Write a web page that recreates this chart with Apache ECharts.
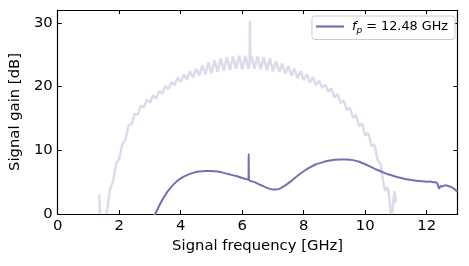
<!DOCTYPE html>
<html>
<head>
<meta charset="utf-8">
<script src="https://cdn.jsdelivr.net/npm/echarts@6/dist/echarts.min.js"></script>
<style>html,body{margin:0;padding:0;background:#fff}#c{width:469px;height:266px}</style>
</head>
<body>
<div id="c"></div>
<script>
// Faded reference trace (signal gain, dB) vs signal frequency (GHz)
var refFreq = [1.35,1.38,1.55,1.6,1.7,1.8,1.9,2.0,2.1,2.2,2.3,2.4,2.5,2.6,2.7,2.8,2.9,3.0,3.1,3.2,3.3,3.4,3.5,3.6,3.7,3.8,3.9,4.0,4.1,4.2,4.3,4.4,4.5,4.6,4.7,4.8,4.9,5.0,5.1,5.2,5.3,5.4,5.5,5.6,5.7,5.8,5.9,6.0,6.1,6.2,6.24,6.25,6.26,6.3,6.4,6.5,6.6,6.7,6.8,6.9,7.0,7.1,7.2,7.3,7.4,7.5,7.6,7.7,7.8,7.9,8.0,8.1,8.2,8.3,8.4,8.5,8.6,8.7,8.8,8.9,9.0,9.1,9.2,9.3,9.4,9.5,9.6,9.7,9.8,9.9,10.0,10.1,10.2,10.3,10.4,10.5,10.6,10.65,10.7,10.75,10.8,10.85,10.9,10.95,11.0];
var refGain = [3.1,-1,-1,0.5,3.8,5.2,7.9,8.7,10.9,11.6,13.9,14.1,15.7,15.6,17.0,16.7,17.9,17.5,18.6,18.1,19.3,18.9,20.1,19.6,20.7,20.2,21.4,20.7,21.9,21.1,22.4,21.4,22.8,21.7,23.3,21.9,23.8,22.1,24.1,22.3,24.4,22.5,24.6,22.6,24.7,22.8,24.8,22.7,24.8,22.8,23.5,30.3,23.8,24.8,22.8,24.7,22.7,24.6,22.5,24.4,22.4,24.0,22.3,23.6,22.0,23.2,21.7,22.8,21.3,22.4,21.0,21.9,20.6,21.5,20.2,20.9,19.8,20.3,19.2,19.7,18.3,18.8,17.4,17.8,16.3,16.7,15.1,15.5,13.8,14.2,12.3,12.7,10.7,10.9,8.5,7.8,4.6,3.6,4.2,3.8,1.8,-1,-1,3.6,1.8];

// Main trace, f_p = 12.48 GHz
var pumpFreq = [3.1,3.17,3.3,3.4,3.5,3.6,3.8,4.0,4.2,4.4,4.6,4.8,5.0,5.2,5.4,5.6,5.8,6.0,6.2,6.21,6.22,6.4,6.6,6.8,7.0,7.1,7.2,7.4,7.6,7.8,8.0,8.2,8.4,8.6,8.8,9.0,9.2,9.4,9.6,9.8,10.0,10.2,10.4,10.6,10.8,11.0,11.2,11.4,11.6,11.8,12.0,12.1,12.2,12.3,12.35,12.4,12.45,12.5,12.6,12.7,12.8,12.9,13.0];
var pumpGain = [-0.3,0,1.3,2.2,3.0,3.7,4.8,5.6,6.1,6.45,6.65,6.75,6.75,6.65,6.45,6.2,5.95,5.65,5.4,9.4,5.35,5.0,4.55,4.1,3.85,3.85,3.95,4.5,5.2,6.0,6.7,7.3,7.8,8.1,8.35,8.5,8.55,8.55,8.45,8.2,7.8,7.35,6.9,6.5,6.15,5.85,5.6,5.4,5.25,5.15,5.05,5.1,5.0,5.0,4.7,4.0,4.4,4.3,4.5,4.4,4.2,3.9,3.5];

var xTicks = [0,2,4,6,8,10,12];
var yTicks = [0,10,20,30];
var seriesName = 'f_p = 12.48 GHz';

function zip(a,b){var r=[];for(var i=0;i<a.length;i++)r.push([a[i],b[i]]);return r;}

var font = 'DejaVu Sans';
var fs = 14.8;
var chart = echarts.init(document.getElementById('c'), null, {renderer:'canvas'});
var axCommon = {
  axisLine:{show:true,onZero:false,lineStyle:{color:'#000',width:1.2}},
  axisTick:{show:true,inside:true,length:4,lineStyle:{color:'#000',width:1}},
  splitLine:{show:false}
};
chart.setOption({
  animation:false,
  grid:{left:55,right:11.5,top:10,bottom:52,containLabel:false},
  xAxis:[
    Object.assign({type:'value',position:'bottom',min:0,max:13,interval:2,
      name:'Signal frequency [GHz]',nameLocation:'middle',nameGap:22,
      nameTextStyle:{fontFamily:font,fontSize:fs,color:'#000'},
      axisLabel:{fontFamily:font,fontSize:fs,color:'#000',margin:5,showMaxLabel:false,
        formatter:function(v){return xTicks.indexOf(v)>=0?String(v):'';}}},axCommon),
    Object.assign({type:'value',position:'top',min:0,max:13,interval:2,axisLabel:{show:false}},axCommon)
  ],
  yAxis:[
    Object.assign({type:'value',position:'left',min:0,max:32,interval:10,
      name:'Signal gain [dB]',nameLocation:'middle',nameGap:29,
      nameTextStyle:{fontFamily:font,fontSize:fs,color:'#000'},
      axisLabel:{fontFamily:font,fontSize:fs,color:'#000',margin:5,showMaxLabel:false,
        formatter:function(v){return yTicks.indexOf(v)>=0?String(v):'';}}},axCommon),
    Object.assign({type:'value',position:'right',min:0,max:32,interval:10,axisLabel:{show:false}},axCommon)
  ],
  legend:{
    show:true,data:[{name:seriesName,icon:'rect'}],right:14,top:16,
    padding:[4,7,4,4],itemWidth:28,itemHeight:2.2,itemGap:6,
    borderColor:'#cccccc',borderWidth:1,borderRadius:3,backgroundColor:'#fff',
    formatter:function(){return '{i|f}{s|p}{t| = 12.48 GHz}';},
    textStyle:{fontFamily:font,fontSize:12.8,color:'#000',
      rich:{
        i:{fontFamily:font,fontSize:12.8,fontStyle:'italic',color:'#000',lineHeight:18,verticalAlign:'middle',padding:[0,0,0,3]},
        s:{fontFamily:font,fontSize:9,fontStyle:'italic',color:'#000',lineHeight:18,verticalAlign:'bottom',padding:[6,0,0,0]},
        t:{fontFamily:font,fontSize:12.8,color:'#000',lineHeight:18,verticalAlign:'middle'}
      }}
  },
  series:[
    {type:'line',name:'ref',data:zip(refFreq,refGain),showSymbol:false,symbol:'none',clip:true,
      lineStyle:{color:'#7570b3',width:2.5,opacity:0.25},itemStyle:{color:'#7570b3'},z:1},
    {type:'line',name:seriesName,data:zip(pumpFreq,pumpGain),showSymbol:false,symbol:'none',clip:true,smooth:0.2,
      lineStyle:{color:'#7570b3',width:2},itemStyle:{color:'#7570b3'},z:2}
  ]
});
</script>
</body>
</html>
